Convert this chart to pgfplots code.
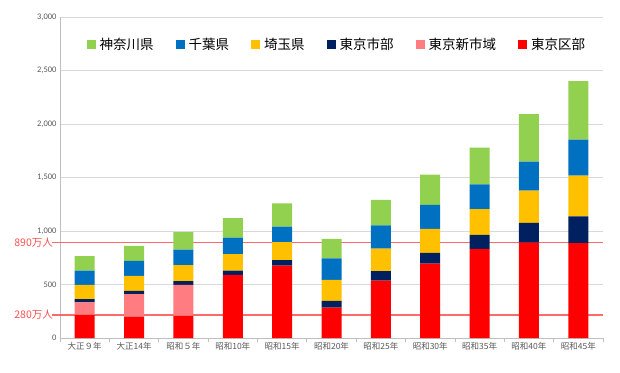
\documentclass[border=0pt]{standalone}
\usepackage{pgfplots}
\pgfplotsset{compat=1.18}
\usepackage{fontspec}
\setmainfont{Carlito}
\newfontfamily\jp{Noto Sans CJK JP}
\definecolor{cKana}{HTML}{92D050}
\definecolor{cChiba}{HTML}{0070C0}
\definecolor{cSait}{HTML}{FFC000}
\definecolor{cShibu}{HTML}{002060}
\definecolor{cShin}{HTML}{FF7C80}
\definecolor{cKu}{HTML}{FF0000}
\definecolor{gridgray}{HTML}{D9D9D9}
\definecolor{axgray}{HTML}{BFBFBF}
\definecolor{txtgray}{HTML}{595959}
\definecolor{lineRed}{HTML}{FF5050}
\begin{document}
\begin{tikzpicture}[x=1pt,y=1pt]
\path[use as bounding box] (0,0) rectangle (620,372);
\begin{axis}[
  at={(60pt,34pt)}, anchor=south west,
  scale only axis, width=543pt, height=321pt,
  ybar stacked, bar width=20pt,
  ymin=0, ymax=3000, xmin=-0.5, xmax=10.5,
  ytick={0,500,...,3000},
  yticklabel style={font=\fontsize{8.5}{9}\selectfont, text=txtgray},
  /pgf/number format/1000 sep={,},
  /pgf/number format/assume math mode=true,
  ymajorgrids, grid style={draw=gridgray, line width=0.8pt},
  axis x line=bottom, axis y line=left,
  axis line style={draw=axgray, line width=0.8pt, -},
  xtick={0,...,10},
  xticklabels={大正９年,大正14年,昭和５年,昭和10年,昭和15年,昭和20年,昭和25年,昭和30年,昭和35年,昭和40年,昭和45年},
  xticklabel style={font=\jp\fontsize{8.5}{10}\selectfont, text=txtgray, yshift=-1pt},
  minor xtick={-0.5,0.5,...,10.5},
  tick align=outside,
  major tick length=0pt, minor tick length=4pt,
  minor tick style={draw=axgray, line width=0.8pt},
  ytick style={draw=none},
  clip=false,
  reverse legend,
  legend columns=6,
  legend style={at={(0.51,0.913)}, anchor=center, draw=none, fill=none,
    font=\jp\fontsize{13.5}{15}\selectfont, text=black,
    /tikz/every even column/.append style={column sep=20pt},
    /tikz/every odd column/.append style={column sep=2pt},
    inner sep=0pt},
  every axis plot post/.append style={draw=none,
    legend image code/.code={\fill[##1] (0pt,-4.5pt) rectangle (9pt,4.5pt);}},
]
% 東京区部
\addplot[fill=cKu] coordinates {(0,217) (1,200) (2,206) (3,590) (4,677) (5,284) (6,537) (7,696) (8,833) (9,891) (10,887)};
% 東京新市域
\addplot[fill=cShin] coordinates {(0,116) (1,209) (2,290) (3,0) (4,0) (5,0) (6,0) (7,0) (8,0) (9,0) (10,0)};
% 東京市部
\addplot[fill=cShibu] coordinates {(0,31) (1,31) (2,35) (3,40) (4,50) (5,62) (6,87) (7,100) (8,131) (9,184) (10,249)};
% 埼玉県
\addplot[fill=cSait] coordinates {(0,132) (1,140) (2,150) (3,153) (4,169) (5,197) (6,212) (7,225) (8,241) (9,302) (10,382)};
% 千葉県
\addplot[fill=cChiba] coordinates {(0,133) (1,141) (2,146) (3,156) (4,146) (5,200) (6,216) (7,224) (8,231) (9,272) (10,337)};
% 神奈川県
\addplot[fill=cKana] coordinates {(0,136) (1,140) (2,163) (3,181) (4,216) (5,184) (6,240) (7,283) (8,343) (9,443) (10,546)};
\legend{東京区部,東京新市域,東京市部,埼玉県,千葉県,神奈川県}
\draw[lineRed, opacity=0.85, line width=1.3pt] (axis cs:-0.67,892) -- (axis cs:10.5,892);
\draw[lineRed, opacity=0.85, line width=1.3pt] (axis cs:-0.67,215) -- (axis cs:10.5,215);
\node[anchor=east, text=lineRed, font=\jp\fontsize{10.5}{12}\selectfont, inner sep=0pt] at (axis cs:-0.64,892) {890万人};
\node[anchor=east, text=lineRed, font=\jp\fontsize{10.5}{12}\selectfont, inner sep=0pt] at (axis cs:-0.64,215) {280万人};
\end{axis}
\end{tikzpicture}
\end{document}
